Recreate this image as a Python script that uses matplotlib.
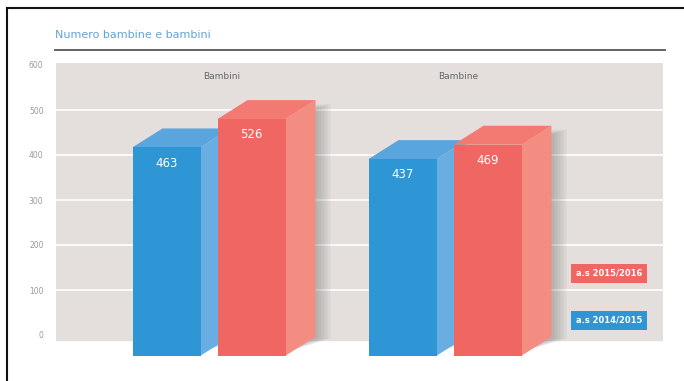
import matplotlib.pyplot as plt
from matplotlib.patches import Polygon, Rectangle

# dati
gruppi = ['Bambini', 'Bambine']
anni = ['a.s 2014/2015', 'a.s 2015/2016']
valori_2014 = [463, 437]
valori_2015 = [526, 469]
yticks = [0, 100, 200, 300, 400, 500, 600]

colori = {
    'a.s 2014/2015': ('#2f96d6', '#68aee2', '#5aa5de'),   # fronte, lato, sopra
    'a.s 2015/2016': ('#ef6662', '#f38c81', '#f37a72'),
}

W, H = 684, 381
fig = plt.figure(figsize=(W / 100, H / 100), dpi=100)

# cornice (solo bordo sinistro e superiore)
fig.add_artist(plt.Line2D([7 / W, 7 / W], [0, 1 - 8 / H], color='#111', lw=1.5))
fig.add_artist(plt.Line2D([7 / W, 1], [1 - 8 / H, 1 - 8 / H], color='#111', lw=1.5))

# titolo e riga sotto
fig.text(55 / W, 1 - 35 / H, 'Numero bambine e bambini', color='#62a3d8',
         fontsize=8, va='center', ha='left')
fig.add_artist(plt.Line2D([55 / W, 665 / W], [1 - 50 / H, 1 - 50 / H],
                          color='#555555', lw=1.3))

# area grafico: 0 -> y=335px, 45px ogni 100
top_px, bot_px = 63, 360
ymax = (335 - top_px) / 0.45
ymin = (335 - bot_px) / 0.45
ax = fig.add_axes([56 / W, 1 - bot_px / H, (663 - 56) / W, (bot_px - top_px) / H])
ax.set_xlim(0, 607)
ax.set_ylim(ymin, ymax)
ax.patch.set_alpha(0)
for s in ax.spines.values():
    s.set_visible(False)
ax.set_xticks([])
ax.set_yticks(yticks)
ax.set_yticklabels([str(t) for t in yticks], fontsize=5.5, color='#9a9a9a')
ax.tick_params(axis='y', length=0, pad=9)

# sfondo grigio e griglia bianca
ax.add_patch(Rectangle((0, -11), 607, ymax + 11, color='#e4dfdc', zorder=0))
for t in yticks[1:-1]:
    ax.axhline(t, color='white', lw=1.2, zorder=1)

base = -46          # le barre partono sotto lo zero
larg = 68
dx, dy = 30, 42     # profondita' 3D (x in px, y in unita')
centri = [153, 389]
off = 42.5

def barra3d(x, val, serie):
    fronte, lato, sopra = colori[serie]
    top = base + val
    x1 = x + larg / 2
    x0 = x - larg / 2
    # ombra morbida a destra
    for i in range(5):
        ax.add_patch(Polygon([(x1, base + 8), (x1 + dx + 3 + 3 * i, base + dy - 4),
                              (x1 + dx + 3 + 3 * i, top + dy - 8), (x1, top)],
                             color='#555555', alpha=0.07, lw=0, zorder=2))
    ax.add_patch(Polygon([(x1, base), (x1 + dx, base + dy), (x1 + dx, top + dy), (x1, top)],
                         color=lato, lw=0, zorder=3))
    ax.add_patch(Polygon([(x0, top), (x0 + dx, top + dy), (x1 + dx, top + dy), (x1, top)],
                         color=sopra, lw=0, zorder=3))
    ax.bar(x, val, width=larg, bottom=base, color=fronte, zorder=4)
    ax.text(x, top - 35, str(val), color='white', fontsize=8.5, ha='center',
            va='center', zorder=5)

for i, g in enumerate(gruppi):
    barra3d(centri[i] - off, valori_2014[i], anni[0])
    barra3d(centri[i] + off, valori_2015[i], anni[1])
    ax.text(centri[i] + 13, 575, g, color='#666666', fontsize=6.5,
            ha='center', va='center', zorder=5)

# legenda a etichette colorate
for serie, ypx in [(anni[1], 273), (anni[0], 320)]:
    ax.text(553, (335 - ypx) / 0.45, serie, color='white', fontsize=6,
            fontweight='bold', ha='center', va='center', zorder=6,
            bbox=dict(boxstyle='square,pad=0.6', fc=colori[serie][0], ec='none'))

fig.savefig('out.png', dpi=100, facecolor='white')
